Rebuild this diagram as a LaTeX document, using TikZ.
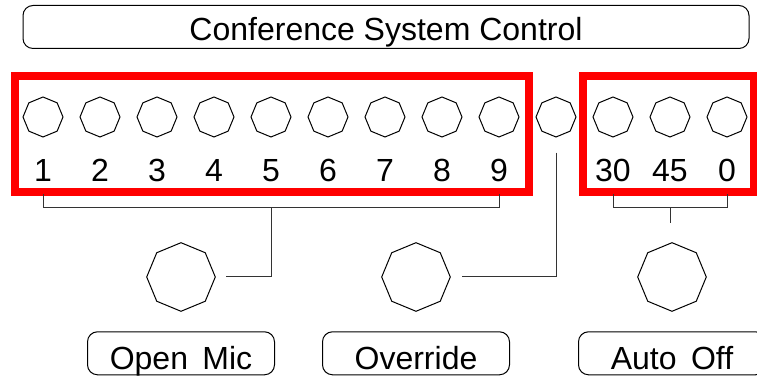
\documentclass[tikz,border=0pt]{standalone}
\usepackage{fontspec}
\setmainfont{Liberation Sans}
\usetikzlibrary{shapes.geometric}

\tikzset{
  knob/.style={draw, regular polygon, regular polygon sides=8, shape border rotate=22.5,
    inner sep=0pt, minimum size=20pt, line width=0.5pt},
  bigknob/.style={knob, minimum size=34.3pt},
  panel/.style={draw, rounded corners=5pt, minimum width=93.5pt, minimum height=21.5pt, line width=0.5pt},
  frame/.style={draw=red, line width=4pt},
  wire/.style={draw=black!80, line width=0.5pt},
  caption/.style={anchor=base, inner sep=0pt}
}

\begin{document}
\begin{tikzpicture}[x=0.5pt, y=-0.5pt, font=\fontsize{16}{19}\selectfont]
\useasboundingbox (0,0) rectangle (757,378);

% Cabecera
\node[panel, minimum width=363pt] (title) at (386,27) {};
\node[caption] (titletext) at (386,41) {Conference System Control};

% Marcos rojos
\draw[frame] (15,76) rectangle (529,192);
\draw[frame] (583,76) rectangle (754,192);

% Botones de microfono
\foreach \n [count=\i from 0] in {1,...,9} {
  \node[knob] (b\n) at ({43+57*\i},117) {};
  \node[caption] (l\n) at ({43+57*\i},181.5) {\n};
}
\node[knob] (ovk) at (556,117) {};

% Botones de tiempo
\foreach \t [count=\i from 10] in {30,45,0} {
  \node[knob] (t\t) at ({43+57*\i},117) {};
  \node[caption] (n\t) at ({43+57*\i},181.5) {\t};
}

% Mandos grandes
\node[bigknob] (openmic) at (181,277) {};
\node[bigknob] (override) at (416,277) {};
\node[bigknob] (autooff) at (672,277) {};

% Etiquetas de abajo
\node[panel] (ompanel) at (181,353.3) {};
\node[panel] (ovpanel) at (416,353.3) {};
\node[panel] (aopanel) at (672,353.3) {};
\node[caption] (omtext) at (181,370) {Open\hspace{0.45em}Mic};
\node[caption] (ovtext) at (416,370) {Override};
\node[caption] (aotext) at (672,370) {Auto\hspace{0.45em}Off};

% Conexiones
\coordinate (top) at (0,194);
\coordinate (bar) at (0,208);
\draw[wire] (b1 |- top) -- (b1 |- bar) -- (b9 |- bar) -- (b9 |- top);
\draw[wire] (b5 |- bar) -- (b5 |- openmic) -- ([xshift=5.2pt]openmic.east);
\draw[wire] ([yshift=-7.5pt]ovk.south) -- (ovk |- override) -- ([xshift=5.5pt]override.east);
\draw[wire] (t30 |- top) -- (t30 |- bar) -- (t0 |- bar) -- (t0 |- top);
\draw[wire] (t45 |- bar) -- ++(0,15);
\end{tikzpicture}
\end{document}
